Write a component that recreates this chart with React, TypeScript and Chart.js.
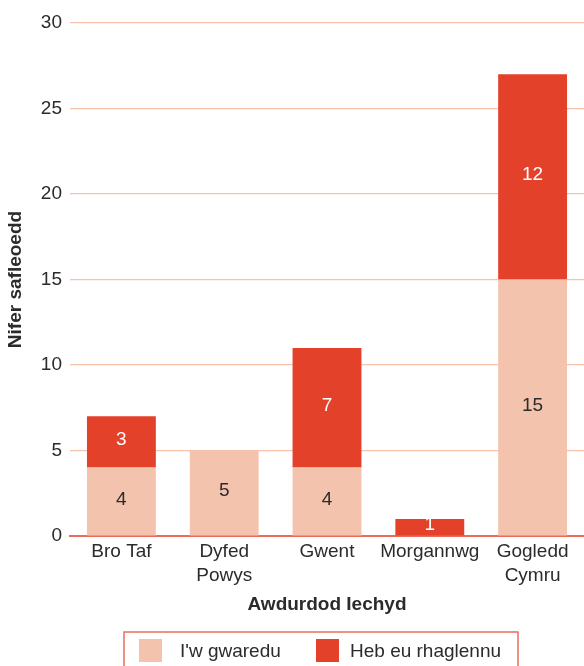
import React, { useEffect, useRef } from "react";
import { Chart, registerables } from "chart.js";

Chart.register(...registerables);

const categories: (string | string[])[] = [
  "Bro Taf",
  ["Dyfed", "Powys"],
  "Gwent",
  "Morgannwg",
  ["Gogledd", "Cymru"],
];
const seriesNames = ["I'w gwaredu", "Heb eu rhaglennu"];
const toDispose = [4, 5, 4, 0, 15];
const notProgrammed = [3, 0, 7, 1, 12];
const yTicks = [0, 5, 10, 15, 20, 25, 30];

const LIGHT = "#f4c3ad";
const DARK = "#e4412b";
const TEXT = "#2b2b2b";
const FONT = "'Liberation Sans', Arial, sans-serif";

const valueLabels = {
  id: "valueLabels",
  afterDatasetsDraw(chart: any) {
    const ctx = chart.ctx;
    ctx.save();
    ctx.font = `19px ${FONT}`;
    ctx.textAlign = "center";
    ctx.textBaseline = "middle";
    chart.data.datasets.forEach((ds: any, di: number) => {
      const meta = chart.getDatasetMeta(di);
      meta.data.forEach((el: any, i: number) => {
        const v = ds.data[i];
        if (!v) return;
        const { x, y, base } = el.getProps(["x", "y", "base"], true);
        ctx.fillStyle = di === 0 ? TEXT : "#ffffff";
        ctx.fillText(String(v), x, (y + base) / 2 - 2);
      });
    });
    ctx.restore();
  },
};

const boxedLegend = {
  id: "boxedLegend",
  afterDraw(chart: any) {
    const ctx = chart.ctx;
    const area = chart.chartArea;
    const xScale = chart.scales.x;
    const boxW = 394;
    const boxLeft = (area.left + area.right) / 2 - boxW / 2 - 6;
    const boxTop = xScale.bottom + 16;
    ctx.save();
    ctx.strokeStyle = "#ea6d5c";
    ctx.lineWidth = 1.5;
    ctx.strokeRect(boxLeft, boxTop, boxW, 60);
    const items = [
      { sw: 15, tx: 56 },
      { sw: 192, tx: 226 },
    ];
    ctx.font = `19px ${FONT}`;
    ctx.textBaseline = "middle";
    ctx.textAlign = "left";
    chart.data.datasets.forEach((ds: any, i: number) => {
      const it = items[i];
      ctx.fillStyle = ds.backgroundColor;
      ctx.fillRect(boxLeft + it.sw, boxTop + 7, 23, 23);
      ctx.fillStyle = TEXT;
      ctx.fillText(ds.label, boxLeft + it.tx, boxTop + 20);
    });
    ctx.restore();
  },
};

export default function App() {
  const ref = useRef<HTMLCanvasElement>(null);
  useEffect(() => {
    if (!ref.current) return;
    const chart = new Chart(ref.current, {
      type: "bar",
      data: {
        labels: categories,
        datasets: [
          {
            label: seriesNames[0],
            data: toDispose,
            backgroundColor: LIGHT,
            borderWidth: 0,
            categoryPercentage: 1,
            barPercentage: 0.67,
          },
          {
            label: seriesNames[1],
            data: notProgrammed,
            backgroundColor: DARK,
            borderWidth: 0,
            categoryPercentage: 1,
            barPercentage: 0.67,
          },
        ],
      },
      options: {
        animation: false,
        responsive: true,
        maintainAspectRatio: false,
        layout: { padding: { top: 23, right: 0, bottom: 50, left: 0 } },
        plugins: {
          legend: { display: false },
          tooltip: { enabled: false },
        },
        scales: {
          x: {
            stacked: true,
            grid: { display: false, drawTicks: false },
            border: { display: true, color: "#ea6d5c", width: 2 },
            ticks: {
              color: TEXT,
              padding: 4,
              maxRotation: 0,
              font: { family: FONT, size: 19, lineHeight: 1.25 },
            },
            title: {
              display: true,
              text: "Awdurdod Iechyd",
              color: TEXT,
              padding: { top: 4, bottom: 0 },
              font: { family: FONT, size: 19, weight: "bold", lineHeight: 1.2 },
            },
            afterFit(scale: any) {
              scale.height = 80;
            },
          },
          y: {
            stacked: true,
            min: 0,
            max: 30,
            afterBuildTicks(scale: any) {
              scale.ticks = yTicks.map((v) => ({ value: v }));
            },
            grid: { color: "#f6c2ab", lineWidth: 1.2, drawTicks: false },
            border: { display: false },
            ticks: {
              color: TEXT,
              padding: 8,
              font: { family: FONT, size: 19 },
            },
            title: {
              display: true,
              text: "Nifer safleoedd",
              color: TEXT,
              padding: { top: 4, bottom: 0 },
              font: { family: FONT, size: 19, weight: "bold", lineHeight: 1.2 },
            },
            afterFit(scale: any) {
              scale.width = 70;
            },
          },
        },
      },
      plugins: [valueLabels, boxedLegend],
    });
    return () => chart.destroy();
  }, []);
  return (
    <div style={{ position: "absolute", left: 0, top: 0, width: 584, height: 666, background: "#fff" }}>
      <canvas ref={ref} />
    </div>
  );
}
